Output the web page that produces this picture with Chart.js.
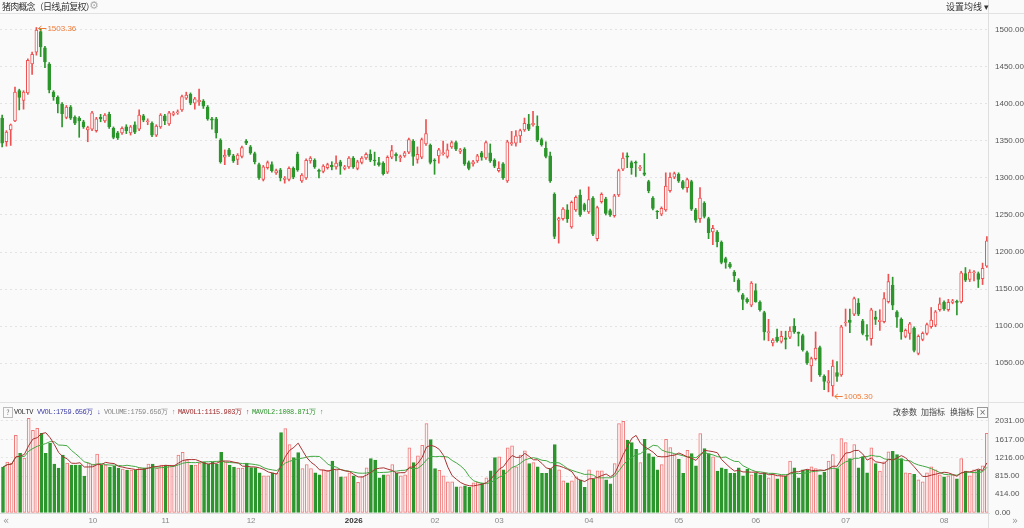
<!DOCTYPE html>
<html>
<head>
<meta charset="utf-8">
<script src="https://cdn.jsdelivr.net/npm/chart.js@4.4.1/dist/chart.umd.min.js"></script>
<style>
html, body { margin: 0; padding: 0; background: #fafafa; width: 1024px; height: 528px; overflow: hidden; }
#wrap { position: relative; width: 1024px; height: 528px; font-family: "Noto Sans CJK SC", "Liberation Sans", sans-serif; }
canvas { position: absolute; left: 0; }
#price { top: 0; }
#vol { top: 402px; }
.t { position: absolute; white-space: nowrap; line-height: 1; }
.mono { font-family: "Liberation Mono", "DejaVu Sans Mono", monospace; font-size: 7px; letter-spacing: -0.4px; }
.hl { position: absolute; left: 0; width: 1024px; height: 1px; background: #e2e2e2; }
</style>
</head>
<body>
<div id="wrap">
  <canvas id="price" width="1024" height="402"></canvas>
  <canvas id="vol" width="1024" height="126"></canvas>
  <div class="hl" style="top:13px"></div>
  <div class="hl" style="top:402px"></div>
  <div style="position:absolute;left:988px;top:0;width:1px;height:528px;background:#dedede"></div>

  <div class="t" style="left:2px;top:2px;font-size:9px;letter-spacing:-0.8px;color:#333">猪肉概念（日线,前复权）</div>
  <div class="t" style="left:89px;top:0px;font-size:11px;color:#aaa;font-family:'DejaVu Sans'">⚙</div>
  <div class="t" style="left:946px;top:2px;font-size:9px;color:#333">设置均线 ▾</div>

  <div class="t" style="left:3px;top:407px;width:8px;height:9px;border:1px solid #bbb;font-size:7px;color:#777;text-align:center;line-height:9px">?</div>
  <div class="t mono" style="left:14px;top:409px;color:#333">VOLTV</div>
  <div class="t mono" style="left:37px;top:409px;color:#3b3ba6">VVOL:1759.656万 ↓</div>
  <div class="t mono" style="left:104px;top:409px;color:#888">VOLUME:1759.656万 ↑</div>
  <div class="t mono" style="left:178px;top:409px;color:#a02c2c">MAVOL1:1115.903万 ↑</div>
  <div class="t mono" style="left:252px;top:409px;color:#2f962f">MAVOL2:1008.871万 ↑</div>
  <div class="t" style="left:893px;top:408px;font-size:8px;color:#444">改参数</div>
  <div class="t" style="left:921px;top:408px;font-size:8px;color:#444">加指标</div>
  <div class="t" style="left:950px;top:408px;font-size:8px;color:#444">换指标</div>
  <div class="t" style="left:977px;top:407px;width:9px;height:9px;border:1px solid #999;font-size:8px;color:#666;text-align:center;line-height:9px;font-family:'DejaVu Sans'">×</div>

  <div class="t" style="left:3px;top:516px;font-size:10px;color:#999;font-family:'DejaVu Sans'">«</div>
  <div class="t" style="left:1012px;top:516px;font-size:10px;color:#999;font-family:'DejaVu Sans'">»</div>
</div>
<script>
const opens = [
    1381, 1349, 1365, 1377, 1418, 1405, 1415, 1454, 1470, 1498,
    1476, 1454, 1416, 1409, 1400, 1382, 1396, 1382, 1381, 1376,
    1365, 1366, 1364, 1382, 1377, 1386, 1367, 1361, 1361, 1369,
    1361, 1372, 1366, 1384, 1376, 1374, 1358, 1369, 1384, 1373,
    1386, 1388, 1392, 1408, 1413, 1401, 1403, 1404, 1396, 1380,
    1380, 1351, 1328, 1338, 1330, 1325, 1329, 1350, 1342, 1333,
    1318, 1298, 1314, 1318, 1307, 1311, 1298, 1298, 1313, 1332,
    1296, 1300, 1323, 1324, 1310, 1309, 1314, 1317, 1315, 1322,
    1313, 1315, 1327, 1313, 1321, 1327, 1332, 1324, 1321, 1320,
    1308, 1328, 1332, 1327, 1330, 1335, 1350, 1325, 1328, 1346,
    1344, 1324, 1330, 1333, 1329, 1342, 1348, 1336, 1339, 1321,
    1319, 1323, 1334, 1327, 1334, 1324, 1310, 1319, 1296, 1346,
    1347, 1357, 1365, 1373, 1372, 1370, 1352, 1340, 1330, 1278,
    1243, 1245, 1257, 1234, 1257, 1277, 1264, 1254, 1273, 1218,
    1268, 1272, 1256, 1249, 1277, 1312, 1330, 1321, 1321, 1313,
    1307, 1295, 1273, 1255, 1251, 1257, 1283, 1301, 1305, 1295,
    1287, 1295, 1257, 1245, 1266, 1245, 1227, 1227, 1213, 1191,
    1184, 1173, 1162, 1142, 1136, 1128, 1148, 1132, 1118, 1091,
    1077, 1085, 1079, 1084, 1085, 1100, 1091, 1087, 1064, 1046,
    1056, 1071, 1032, 1023, 1019, 1037, 1034, 1104, 1108, 1116,
    1131, 1107, 1087, 1083, 1112, 1106, 1106, 1133, 1155, 1119,
    1109, 1086, 1090, 1097, 1063, 1082, 1090, 1099, 1101, 1122,
    1132, 1122, 1132, 1133, 1133, 1171, 1163, 1172, 1171, 1164,
    1181
]
const highs = [
    1385, 1364, 1373, 1423, 1420, 1418, 1461, 1470, 1503.36, 1501,
    1478, 1456, 1418, 1411, 1402, 1398, 1398, 1384, 1383, 1378,
    1370, 1390, 1382, 1386, 1387, 1389, 1369, 1363, 1369, 1372,
    1371, 1376, 1392, 1386, 1380, 1376, 1372, 1387, 1386, 1390,
    1390, 1392, 1412, 1416, 1415, 1409, 1420, 1406, 1398, 1382,
    1382, 1353, 1338, 1340, 1332, 1333, 1343, 1352, 1344, 1335,
    1320, 1317, 1323, 1322, 1312, 1313, 1302, 1315, 1315, 1335,
    1306, 1326, 1329, 1326, 1312, 1318, 1320, 1322, 1330, 1324,
    1317, 1329, 1329, 1324, 1329, 1334, 1338, 1335, 1328, 1322,
    1330, 1344, 1334, 1331, 1336, 1354, 1352, 1342, 1354, 1379,
    1346, 1326, 1340, 1350, 1346, 1350, 1350, 1340, 1341, 1323,
    1324, 1332, 1336, 1350, 1346, 1326, 1322, 1321, 1351, 1363,
    1364, 1366, 1381, 1386, 1390, 1384, 1354, 1349, 1335, 1280,
    1247, 1260, 1264, 1269, 1276, 1284, 1266, 1288, 1275, 1262,
    1280, 1274, 1258, 1278, 1312, 1334, 1334, 1323, 1323, 1317,
    1333, 1297, 1275, 1256, 1261, 1307, 1307, 1308, 1307, 1297,
    1300, 1297, 1259, 1287, 1268, 1247, 1236, 1229, 1215, 1193,
    1186, 1175, 1164, 1144, 1138, 1160, 1157, 1134, 1120, 1109,
    1083, 1096, 1093, 1093, 1099, 1110, 1092, 1089, 1066, 1058,
    1092, 1073, 1034, 1040, 1054, 1052, 1101, 1123, 1123, 1139,
    1137, 1109, 1102, 1124, 1120, 1122, 1145, 1170, 1166, 1121,
    1111, 1096, 1105, 1099, 1088, 1092, 1104, 1125, 1121, 1138,
    1134, 1136, 1136, 1135, 1174, 1179, 1176, 1175, 1173, 1185,
    1221
]
const lows = [
    1342, 1343, 1344, 1376, 1392, 1393, 1413, 1440, 1466, 1464,
    1449, 1415, 1405, 1388, 1369, 1380, 1379, 1372, 1355, 1367,
    1349, 1364, 1362, 1376, 1375, 1367, 1353, 1352, 1359, 1360,
    1358, 1360, 1364, 1376, 1372, 1356, 1356, 1367, 1372, 1371,
    1384, 1386, 1390, 1406, 1399, 1393, 1398, 1394, 1378, 1366,
    1354, 1320, 1318, 1329, 1321, 1318, 1327, 1345, 1332, 1319,
    1298, 1296, 1312, 1308, 1305, 1296, 1293, 1296, 1299, 1309,
    1294, 1298, 1320, 1313, 1300, 1307, 1312, 1311, 1312, 1305,
    1311, 1313, 1313, 1311, 1319, 1325, 1322, 1317, 1316, 1304,
    1306, 1326, 1323, 1322, 1328, 1333, 1317, 1320, 1326, 1344,
    1319, 1305, 1320, 1331, 1327, 1340, 1337, 1333, 1317, 1311,
    1316, 1321, 1324, 1325, 1321, 1314, 1308, 1298, 1294, 1344,
    1343, 1348, 1363, 1364, 1370, 1349, 1343, 1327, 1294, 1218,
    1212, 1243, 1240, 1232, 1255, 1248, 1255, 1252, 1222, 1215,
    1266, 1250, 1248, 1247, 1275, 1310, 1314, 1305, 1302, 1310,
    1303, 1280, 1257, 1245, 1249, 1255, 1281, 1299, 1294, 1285,
    1281, 1256, 1240, 1240, 1246, 1218, 1210, 1207, 1184, 1178,
    1178, 1160, 1146, 1122, 1131, 1126, 1132, 1120, 1081, 1080,
    1073, 1078, 1077, 1069, 1083, 1090, 1073, 1066, 1048, 1025,
    1054, 1032, 1014, 1011, 1005.3, 1025, 1032, 1100, 1091, 1114,
    1114, 1088, 1081, 1074, 1102, 1094, 1104, 1131, 1122, 1098,
    1082, 1084, 1082, 1065, 1061, 1080, 1088, 1097, 1099, 1120,
    1121, 1120, 1130, 1115, 1131, 1160, 1160, 1161, 1152, 1156,
    1179
]
const closes = [
    1347, 1362, 1372, 1416, 1409, 1416, 1459, 1467, 1500, 1477,
    1457, 1419, 1410, 1400, 1387, 1396, 1381, 1374, 1377, 1369,
    1368, 1388, 1380, 1380, 1385, 1369, 1355, 1354, 1367, 1364,
    1369, 1362, 1385, 1378, 1377, 1358, 1370, 1385, 1377, 1388,
    1388, 1389, 1410, 1412, 1401, 1407, 1405, 1397, 1380, 1378,
    1361, 1322, 1331, 1331, 1323, 1331, 1341, 1347, 1334, 1322,
    1300, 1315, 1321, 1310, 1310, 1300, 1300, 1313, 1301, 1311,
    1304, 1324, 1327, 1315, 1309, 1316, 1318, 1315, 1320, 1316,
    1315, 1327, 1315, 1322, 1327, 1332, 1324, 1323, 1318, 1306,
    1328, 1337, 1330, 1329, 1334, 1352, 1329, 1332, 1352, 1360,
    1321, 1323, 1338, 1334, 1338, 1348, 1339, 1338, 1319, 1313,
    1322, 1330, 1328, 1348, 1323, 1316, 1313, 1300, 1349, 1348,
    1357, 1364, 1374, 1366, 1374, 1351, 1345, 1329, 1296, 1221,
    1245, 1258, 1245, 1267, 1274, 1250, 1257, 1271, 1224, 1260,
    1278, 1252, 1250, 1276, 1310, 1327, 1328, 1314, 1320, 1314,
    1305, 1283, 1259, 1254, 1259, 1289, 1301, 1306, 1296, 1287,
    1298, 1258, 1243, 1273, 1248, 1226, 1232, 1214, 1186, 1186,
    1180, 1168, 1148, 1136, 1133, 1158, 1133, 1122, 1092, 1092,
    1081, 1080, 1086, 1082, 1093, 1092, 1090, 1068, 1050, 1056,
    1070, 1034, 1025, 1026, 1046, 1032, 1099, 1105, 1105, 1137,
    1116, 1090, 1086, 1122, 1109, 1108, 1137, 1160, 1128, 1112,
    1092, 1094, 1103, 1067, 1086, 1090, 1102, 1108, 1119, 1130,
    1123, 1132, 1134, 1132, 1172, 1162, 1173, 1173, 1163, 1178,
    1215
]
// volume in 万
const volumes = [
    1012, 1122, 1100, 1716, 1320, 1210, 2090, 1826, 1870, 1760,
    1320, 1540, 1078, 990, 1276, 1100, 1056, 1056, 1056, 814,
    1100, 1078, 1298, 1056, 1056, 1012, 1034, 990, 968, 946,
    946, 946, 1000, 990, 1078, 1078, 990, 1056, 1056, 1056,
    1056, 1276, 1342, 1166, 1056, 1056, 1100, 1122, 1078, 1122,
    1078, 1342, 1122, 1056, 1012, 990, 990, 1100, 1000, 1000,
    887, 821, 821, 887, 873, 1775, 1863, 1511, 1225, 1335,
    983, 1071, 983, 887, 843, 953, 943, 1144, 953, 799,
    799, 887, 821, 675, 799, 997, 1203, 1166, 777, 843,
    843, 1071, 873, 821, 843, 1437, 1115, 1261, 1496, 1973,
    1621, 983, 943, 821, 689, 689, 579, 579, 601, 565,
    667, 675, 667, 777, 931, 1225, 1239, 953, 1437, 1481,
    1018, 1276, 1371, 1093, 1115, 1018, 873, 873, 983, 1511,
    953, 711, 667, 711, 799, 733, 565, 953, 755, 931,
    931, 733, 645, 1093, 1973, 2024, 1606, 1555, 1408, 1115,
    1628, 1313, 1239, 953, 1071, 1628, 1445, 1291, 1188, 873,
    1386, 1313, 1042, 1753, 1423, 1313, 1239, 923, 997, 967,
    873, 873, 997, 821, 967, 843, 887, 843, 873, 777,
    873, 755, 821, 821, 1144, 997, 777, 953, 953, 1018,
    983, 843, 901, 1144, 1291, 983, 1643, 1555, 1203, 1511,
    997, 1239, 887, 1437, 1093, 923, 1130, 1349, 1364, 1291,
    1203, 887, 873, 851, 733, 689, 887, 1018, 953, 843,
    799, 821, 843, 755, 1203, 923, 821, 953, 953, 1042,
    1760
]
// first trading day of each month (1-based candle number) and its label
const monthStarts = [22, 39, 59, 83, 102, 117, 138, 159, 177, 198, 221]
const monthNames = ['10', '11', '12', '2026', '02', '03', '04', '05', '06', '07', '08']
const priceTicks = [1050, 1100, 1150, 1200, 1250, 1300, 1350, 1400, 1450, 1500]
const volTicks = [0, 414, 815, 1216, 1617, 2031]

const RED = '#ee5252'
const GREEN = '#2c962c'
const AXIS_FONT = { family: 'Liberation Sans', size: 8 }

const labels = opens.map((o, i) => String(i + 1))
const isUp = opens.map((o, i) => closes[i] >= o)

function monthLabel(i) {
    const k = monthStarts.indexOf(i + 1)
    return k >= 0 ? monthNames[k] : ''
}

function movingAvg(arr, n) {
    return arr.map((v, i) => {
        const part = arr.slice(Math.max(0, i - n + 1), i + 1)
        return part.reduce((a, b) => a + b, 0) / part.length
    })
}

function rightAxis(min, max, ticks) {
    return {
        position: 'right',
        min: min,
        max: max,
        afterBuildTicks: scale => { scale.ticks = ticks.map(v => ({ value: v })) },
        afterFit: scale => {
            scale.width = 35
            // labels sit inside the panel, so no extra room above or below
            scale.paddingTop = 0
            scale.paddingBottom = 0
        },
        ticks: { callback: v => Number(v).toFixed(2), font: AXIS_FONT, color: '#555', padding: 6 },
        grid: { color: '#e3e3e3', drawTicks: false },
        border: { display: false, dash: [2, 3] }
    }
}

const extremeMarks = {
    id: 'extremeMarks',
    afterDatasetsDraw(chart) {
        const { ctx, scales } = chart
        const hiIdx = highs.indexOf(Math.max(...highs))
        const loIdx = lows.indexOf(Math.min(...lows))
        const marks = [[hiIdx, highs[hiIdx]], [loIdx, lows[loIdx]]]
        ctx.save()
        ctx.strokeStyle = '#ef7a36'
        ctx.fillStyle = '#ef7a36'
        ctx.font = '8px "Liberation Sans"'
        ctx.textBaseline = 'middle'
        ctx.lineWidth = 1
        marks.forEach(([i, v]) => {
            const x = scales.x.getPixelForValue(i) + 2
            const y = Math.round(scales.y.getPixelForValue(v)) + 0.5
            ctx.beginPath()
            ctx.moveTo(x, y)
            ctx.lineTo(x + 8, y)
            ctx.moveTo(x + 3, y - 2.5)
            ctx.lineTo(x, y)
            ctx.lineTo(x + 3, y + 2.5)
            ctx.stroke()
            ctx.fillText(v.toFixed(2), x + 9, y)
        })
        ctx.restore()
    }
}

new Chart(document.getElementById('price'), {
    type: 'bar',
    data: {
        labels: labels,
        datasets: [{
            label: 'body',
            data: opens.map((o, i) => [o, closes[i]]),
            backgroundColor: isUp.map(up => up ? '#fcfcfc' : GREEN),
            borderColor: isUp.map(up => up ? RED : GREEN),
            borderWidth: 1,
            borderSkipped: false,
            barThickness: 3,
            minBarLength: 1,
            grouped: false,
            order: 0
        }, {
            label: 'wick',
            data: lows.map((l, i) => [l, highs[i]]),
            backgroundColor: isUp.map(up => up ? RED : GREEN),
            barThickness: 1,
            grouped: false,
            order: 1
        }]
    },
    options: {
        responsive: false,
        animation: false,
        devicePixelRatio: 1,
        layout: { padding: { top: 13, left: 0, right: 0, bottom: 0 } },
        plugins: { legend: { display: false }, tooltip: { enabled: false } },
        scales: {
            x: { display: false, offset: true },
            y: rightAxis(997.3, 1522.97, priceTicks)
        }
    },
    plugins: [extremeMarks]
})

new Chart(document.getElementById('vol'), {
    type: 'bar',
    data: {
        labels: labels,
        datasets: [{
            type: 'line',
            label: 'MAVOL1',
            data: movingAvg(volumes, 5),
            borderColor: '#a83232',
            borderWidth: 1,
            pointRadius: 0,
            order: 0
        }, {
            type: 'line',
            label: 'MAVOL2',
            data: movingAvg(volumes, 10),
            borderColor: '#43a843',
            borderWidth: 1,
            pointRadius: 0,
            order: 0
        }, {
            label: 'VOLUME',
            data: volumes,
            backgroundColor: isUp.map(up => up ? '#fdf3f3' : GREEN),
            borderColor: isUp.map(up => up ? '#f07a7a' : GREEN),
            borderWidth: 1,
            borderSkipped: false,
            barThickness: 3,
            order: 1
        }]
    },
    options: {
        responsive: false,
        animation: false,
        devicePixelRatio: 1,
        layout: { padding: { top: 15, left: 0, right: 0, bottom: 0 } },
        plugins: { legend: { display: false }, tooltip: { enabled: false } },
        scales: {
            x: {
                offset: true,
                grid: { display: false, drawTicks: false },
                border: { display: true, color: '#dcdcdc' },
                afterFit: scale => { scale.height = 15 },
                ticks: {
                    autoSkip: false,
                    maxRotation: 0,
                    padding: 3,
                    font: c => monthLabel(c.index) === '2026'
                        ? { family: 'Liberation Sans', size: 8, weight: 'bold' }
                        : AXIS_FONT,
                    color: c => monthLabel(c.index) === '2026' ? '#333' : '#888',
                    callback: (v, i) => monthLabel(i)
                }
            },
            y: rightAxis(0, 2119.3, volTicks)
        }
    }
})
</script>
</body>
</html>
